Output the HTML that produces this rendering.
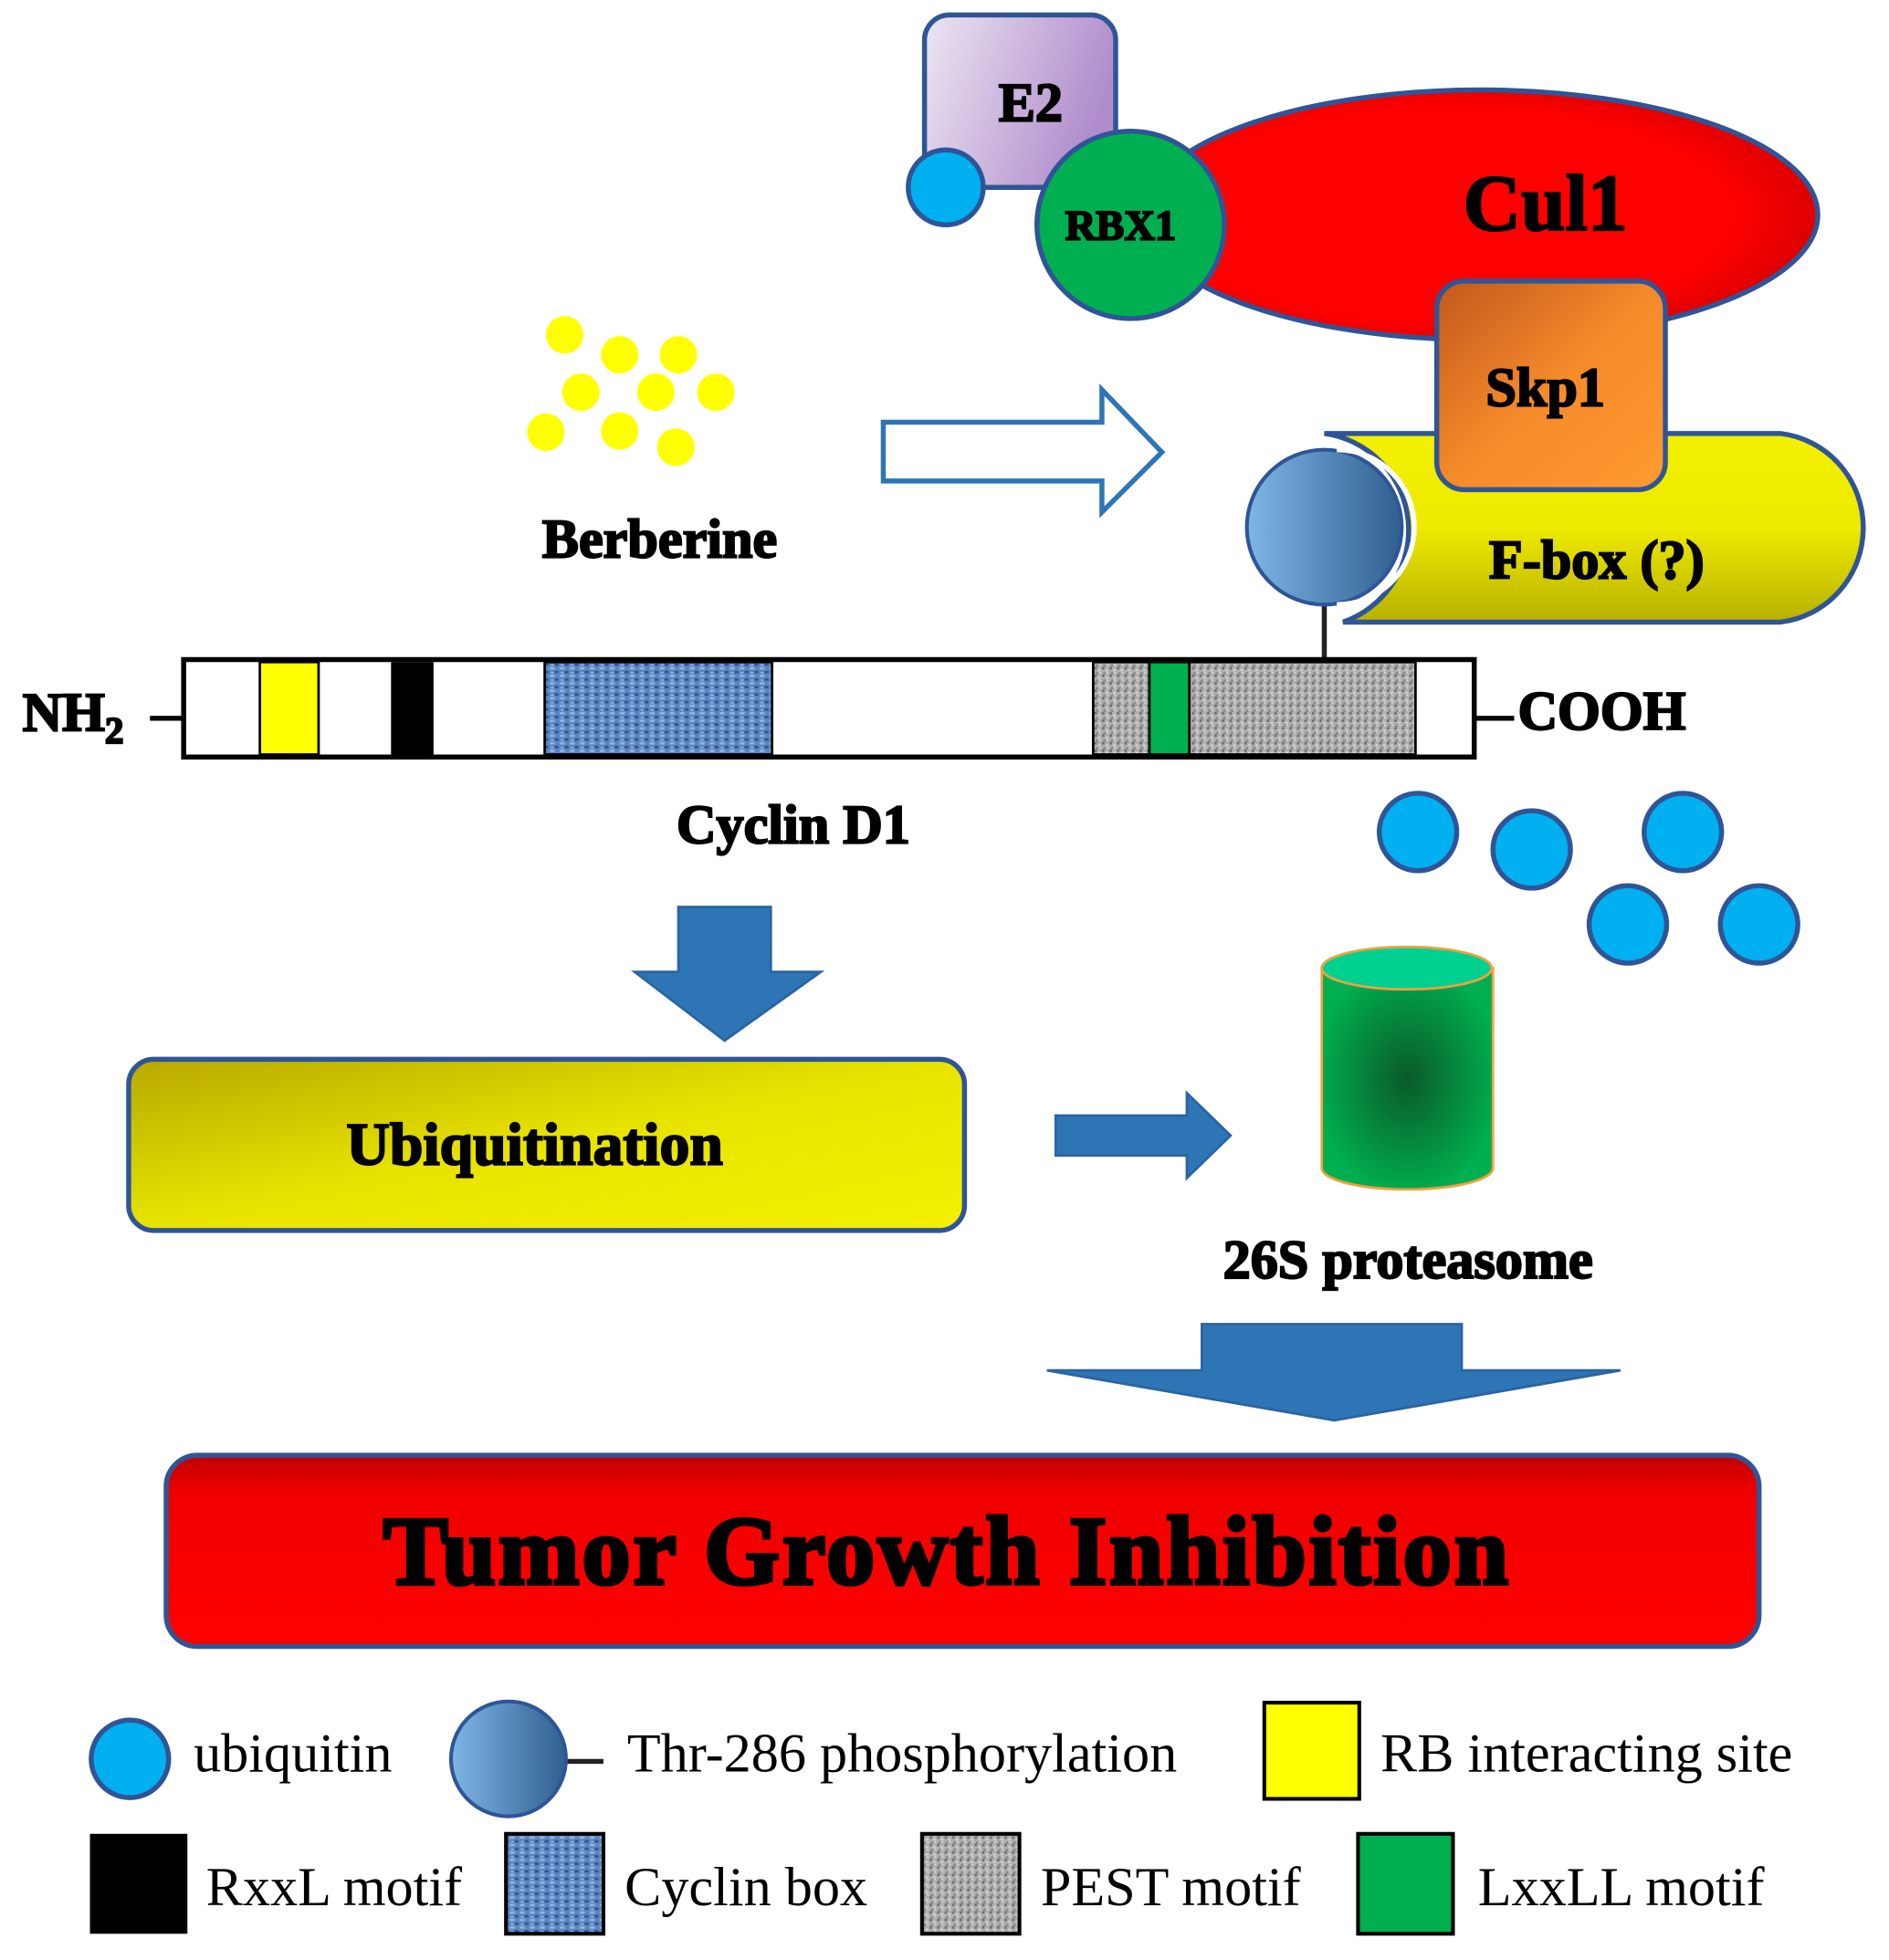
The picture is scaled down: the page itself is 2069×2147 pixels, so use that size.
<!DOCTYPE html>
<html><head><meta charset="utf-8"><style>
html,body{margin:0;padding:0;background:#fff;}
svg{display:block;}
.h{font-family:"Liberation Serif",serif;font-weight:bold;fill:#000;stroke:#000;stroke-width:1.6;text-anchor:middle;}
.l{font-family:"Liberation Serif",serif;fill:#000;font-size:44px;}
</style></head><body>
<svg width="2069" height="2147" viewBox="0 0 1512 1569" preserveAspectRatio="none" xmlns="http://www.w3.org/2000/svg">
<defs>
<linearGradient id="e2" x1="0" y1="0" x2="1" y2="0.3"><stop offset="0" stop-color="#ece6f2"/><stop offset="1" stop-color="#b08ccc"/></linearGradient>
<linearGradient id="skp" x1="0" y1="0" x2="1" y2="1"><stop offset="0" stop-color="#c0581c"/><stop offset="0.5" stop-color="#f58a2a"/><stop offset="1" stop-color="#ff9a30"/></linearGradient>
<linearGradient id="fb" x1="0" y1="0" x2="0" y2="1"><stop offset="0" stop-color="#f4f000"/><stop offset="0.5" stop-color="#eeea00"/><stop offset="1" stop-color="#b8b000"/></linearGradient>
<linearGradient id="ub" x1="0" y1="0" x2="1" y2="1"><stop offset="0" stop-color="#b8a800"/><stop offset="0.5" stop-color="#e8e400"/><stop offset="1" stop-color="#f4f000"/></linearGradient>
<linearGradient id="ph" x1="0" y1="0" x2="1" y2="0"><stop offset="0" stop-color="#7fb6e6"/><stop offset="1" stop-color="#2f5f8f"/></linearGradient>
<radialGradient id="cul" cx="0.45" cy="0.5" r="0.6"><stop offset="0.7" stop-color="#ff0000"/><stop offset="1" stop-color="#d00000"/></radialGradient>
<radialGradient id="prot" cx="0.5" cy="0.5" r="0.55"><stop offset="0" stop-color="#0a5a28"/><stop offset="1" stop-color="#00b050"/></radialGradient>
<linearGradient id="tum" x1="0" y1="0" x2="0" y2="1"><stop offset="0" stop-color="#c00000"/><stop offset="0.2" stop-color="#f00000"/><stop offset="1" stop-color="#ff0000"/></linearGradient>
<pattern id="cb" width="8" height="6" patternUnits="userSpaceOnUse"><rect width="8" height="6" fill="#5b86c0"/><rect x="0" y="0" width="4" height="2" fill="#8fb2e0"/><rect x="4" y="3" width="3" height="2" fill="#2e5590"/><rect x="1" y="4" width="2" height="1" fill="#a8c4ea"/></pattern>
<pattern id="pest" width="6" height="6" patternUnits="userSpaceOnUse"><rect width="6" height="6" fill="#b0b0b0"/><rect x="0" y="0" width="2" height="2" fill="#707070"/><rect x="3" y="2" width="2" height="1" fill="#e0e0e0"/><rect x="1" y="4" width="2" height="2" fill="#8a8a8a"/><rect x="4" y="4" width="1" height="1" fill="#f0f0f0"/></pattern>
</defs>
<rect width="1512" height="1569" fill="#fff"/>

<!-- E2 -->
<rect x="740" y="12" width="153" height="138" rx="20" fill="url(#e2)" stroke="#2f5597" stroke-width="4"/>
<text x="825" y="97" class="h" font-size="44">E2</text>
<circle cx="757" cy="150" r="30" fill="#00b0f0" stroke="#2f5597" stroke-width="4"/>
<!-- Cul1 -->
<ellipse cx="1185" cy="172" rx="270" ry="100" fill="url(#cul)" stroke="#2f5597" stroke-width="4"/>
<text x="1237" y="184" class="h" font-size="64">Cul1</text>
<circle cx="905" cy="180" r="75" fill="#00b050" stroke="#2f5597" stroke-width="4"/>
<text x="897" y="192" class="h" font-size="34">RBX1</text>
<!-- F-box -->
<path d="M1060 347 L1425 347 A75 76 0 0 1 1425 498 L1075 498 A78 78 0 0 0 1060 347 Z" fill="url(#fb)" stroke="#2f5597" stroke-width="4"/>
<text x="1278" y="463" class="h" font-size="44">F-box (?)</text>
<rect x="1150" y="225" width="183" height="167" rx="22" fill="url(#skp)" stroke="#2f5597" stroke-width="4"/>
<text x="1237" y="325" class="h" font-size="44">Skp1</text>
<line x1="1060" y1="484" x2="1060" y2="528" stroke="#222" stroke-width="4"/>
<circle cx="1060" cy="422" r="62" fill="url(#ph)" stroke="#2f5597" stroke-width="3"/>
<path d="M1070 360 A62 62 0 0 1 1070 484" fill="none" stroke="#fff" stroke-width="4"/>

<!-- Berberine -->
<g fill="#ffff00">
<circle cx="452" cy="268" r="15"/><circle cx="496" cy="284" r="15"/><circle cx="543" cy="284" r="15"/>
<circle cx="465" cy="314" r="15"/><circle cx="525" cy="314" r="15"/><circle cx="573" cy="314" r="15"/>
<circle cx="437" cy="346" r="15"/><circle cx="496" cy="345" r="15"/><circle cx="541" cy="358" r="15"/>
</g>
<text x="528" y="446" class="h" font-size="44">Berberine</text>
<path d="M707 338 L882 338 L882 312 L930 362 L882 410 L882 385 L707 385 Z" fill="#fff" stroke="#2e75b6" stroke-width="4"/>

<!-- Cyclin bar -->
<line x1="120" y1="575" x2="147" y2="575" stroke="#000" stroke-width="4"/>
<line x1="1180" y1="575" x2="1212" y2="575" stroke="#000" stroke-width="4"/>
<rect x="147" y="528" width="1033" height="78" fill="#fff" stroke="#000" stroke-width="4"/>
<rect x="208" y="530" width="47" height="74" fill="#ffff00" stroke="#000" stroke-width="2"/>
<rect x="313" y="530" width="34" height="74" fill="#000"/>
<rect x="436" y="530" width="182" height="74" fill="url(#cb)" stroke="#000" stroke-width="2"/>
<rect x="875" y="530" width="45" height="74" fill="url(#pest)" stroke="#000" stroke-width="2"/>
<rect x="920" y="530" width="32" height="74" fill="#00b050" stroke="#000" stroke-width="2"/>
<rect x="952" y="530" width="181" height="74" fill="url(#pest)" stroke="#000" stroke-width="2"/>
<text x="18" y="585" class="h" font-size="44" style="text-anchor:start">NH<tspan font-size="30" dy="10">2</tspan></text>
<text x="1215" y="584" class="h" font-size="44" style="text-anchor:start">COOH</text>
<text x="635" y="675" class="h" font-size="44">Cyclin D1</text>

<!-- ubiquitins -->
<g fill="#00b0f0" stroke="#2f5597" stroke-width="4">
<circle cx="1135" cy="666" r="31"/><circle cx="1226" cy="680" r="31"/><circle cx="1347" cy="666" r="31"/>
<circle cx="1303" cy="740" r="31"/><circle cx="1408" cy="740" r="31"/>
</g>

<!-- down arrow -->
<path d="M543 726 L617 726 L617 778 L657 778 L580 833 L508 778 L543 778 Z" fill="#2e75b6" stroke="#2a64a0" stroke-width="2"/>
<!-- Ubiquitination -->
<rect x="103" y="848" width="669" height="137" rx="20" fill="url(#ub)" stroke="#2f5597" stroke-width="4"/>
<text x="428" y="932" class="h" font-size="48">Ubiquitination</text>
<path d="M845 893 L950 893 L950 875 L985 909 L950 943 L950 925 L845 925 Z" fill="#2e75b6" stroke="#2a64a0" stroke-width="2"/>

<!-- proteasome -->
<path d="M1058 775 L1058 935 A68 17 0 0 0 1195 935 L1195 775 Z" fill="url(#prot)" stroke="#f0a040" stroke-width="2"/>
<ellipse cx="1126" cy="775" rx="68" ry="17" fill="#00d090" stroke="#f0a040" stroke-width="2"/>
<text x="1127" y="1023" class="h" font-size="44">26S proteasome</text>

<path d="M962 1060 L1170 1060 L1170 1097 L1297 1097 L1068 1137 L838 1097 L962 1097 Z" fill="#2e75b6" stroke="#2a64a0" stroke-width="2"/>

<!-- Tumor -->
<rect x="133" y="1165" width="1275" height="153" rx="25" fill="url(#tum)" stroke="#2f5597" stroke-width="4"/>
<text x="758" y="1268" class="h" font-size="78" style="stroke-width:3;letter-spacing:2px">Tumor Growth Inhibition</text>

<!-- legend -->
<circle cx="104" cy="1408" r="31" fill="#00b0f0" stroke="#2f5597" stroke-width="4"/>
<text x="155" y="1418" class="l">ubiquitin</text>
<line x1="453" y1="1410" x2="483" y2="1410" stroke="#222" stroke-width="4"/>
<circle cx="407" cy="1408" r="46" fill="url(#ph)" stroke="#2f5597" stroke-width="3"/>
<text x="502" y="1418" class="l">Thr-286 phosphorylation</text>
<rect x="1012" y="1363" width="76" height="77" fill="#ffff00" stroke="#000" stroke-width="3"/>
<text x="1105" y="1418" class="l">RB interacting site</text>

<rect x="72" y="1468" width="78" height="80" fill="#000"/>
<text x="165" y="1525" class="l">RxxL motif</text>
<rect x="405" y="1468" width="78" height="80" fill="url(#cb)" stroke="#000" stroke-width="3"/>
<text x="500" y="1525" class="l">Cyclin box</text>
<rect x="738" y="1468" width="78" height="80" fill="url(#pest)" stroke="#000" stroke-width="3"/>
<text x="833" y="1525" class="l">PEST motif</text>
<rect x="1087" y="1468" width="76" height="80" fill="#00b050" stroke="#000" stroke-width="3"/>
<text x="1183" y="1525" class="l">LxxLL motif</text>
</svg>
</body></html>
